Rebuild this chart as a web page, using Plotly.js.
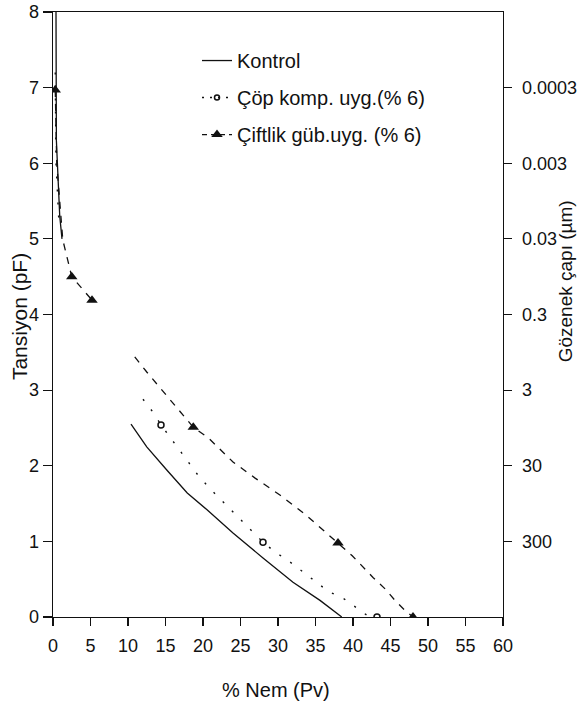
<!DOCTYPE html>
<html>
<head>
<meta charset="utf-8">
<script src="https://cdn.plot.ly/plotly-3.0.1.min.js"></script>
<style>html,body{margin:0;padding:0;background:#fff;}#chart{width:582px;height:707px;}</style>
</head>
<body>
<div id="chart"></div>
<script>
// Series names
const seriesNames = ['Kontrol', 'Çöp komp. uyg.(% 6)', 'Çiftlik güb.uyg. (% 6)'];
// Kontrol (solid line)
const kontrolX = [0.4, 0.45, 0.9, 1.2, null, 10.4, 12.5, 15.2, 17.9, 20.5, 24, 28, 32, 35.6, 38.5];
const kontrolY = [8.0, 6.3, 5.3, 5.0, null, 2.55, 2.25, 1.94, 1.64, 1.42, 1.11, 0.78, 0.46, 0.22, 0];
// Çöp komp. (dotted line + open circles)
const copLineX = [0.3, 0.4, 0.8, null, 12, 13.4, 14.4, 19.3, 20.9, 21.8, 22.7, 28, 29.6, 31.7, 36.7, 37.7, 38.8, 41.9, 43.2];
const copLineY = [7.2, 6.0, 5.2, null, 2.88, 2.7, 2.54, 1.88, 1.7, 1.61, 1.52, 0.99, 0.86, 0.72, 0.34, 0.29, 0.24, 0.02, 0];
const copMarkX = [14.4, 28, 43.2];
const copMarkY = [2.54, 0.99, 0];
// Çiftlik güb. (dashed line + triangles)
const ciftLineX = [0.3, 0.5, 1.3, 2.5, 5.2, null, 10.9, 12.5, 15.3, 18.7, 20.7, 24, 26.9, 30.3, 33.6, 35.2, 38, 39.9, 42.7, 44.3, 45.6, 46.9, 48];
const ciftLineY = [6.97, 6.0, 4.99, 4.5, 4.19, null, 3.44, 3.24, 2.91, 2.51, 2.37, 2.05, 1.84, 1.61, 1.36, 1.22, 0.98, 0.81, 0.52, 0.37, 0.22, 0.09, 0];
const ciftMarkX = [0.3, 2.5, 5.2, 18.7, 38, 48];
const ciftMarkY = [6.97, 4.5, 4.19, 2.51, 0.98, 0];
// Axis ticks
const xTicks = [0, 5, 10, 15, 20, 25, 30, 35, 40, 45, 50, 55, 60];
const yTicks = [0, 1, 2, 3, 4, 5, 6, 7, 8];
const poreTickVals = [1, 2, 3, 4, 5, 6, 7];
const poreTickText = ['300', '30', '3', '0.3', '0.03', '0.003', '0.0003'];

const FONT = 'Liberation Sans, Arial, Helvetica, sans-serif';
const INK = '#111';

const traces = [
  {x: kontrolX, y: kontrolY, mode: 'lines', name: seriesNames[0], legendgroup: 'a',
   line: {color: INK, width: 1.3}, connectgaps: false, showlegend: true},
  {x: copLineX, y: copLineY, mode: 'lines', name: seriesNames[1], legendgroup: 'b',
   line: {color: INK, width: 1.4, dash: '2px,11px'}, connectgaps: false, showlegend: false},
  {x: copMarkX, y: copMarkY, mode: 'markers', name: seriesNames[1], legendgroup: 'b', showlegend: false,
   marker: {symbol: 'circle-open', size: 6, color: INK, line: {width: 1.5, color: INK}}},
  {x: [null], y: [null], mode: 'lines+markers', name: seriesNames[1], legendgroup: 'b', showlegend: true,
   line: {color: INK, width: 1.4, dash: '2px,6px'},
   marker: {symbol: 'circle-open', size: 5, color: INK, line: {width: 1.5, color: INK}}},
  {x: ciftLineX, y: ciftLineY, mode: 'lines', name: seriesNames[2], legendgroup: 'c',
   line: {color: INK, width: 1.3, dash: '7px,7px'}, connectgaps: false, showlegend: false},
  {x: ciftMarkX, y: ciftMarkY, mode: 'markers', name: seriesNames[2], legendgroup: 'c', showlegend: false,
   marker: {symbol: 'triangle-up', size: 10, color: INK}},
  {x: [null], y: [null], mode: 'lines+markers', name: seriesNames[2], legendgroup: 'c', showlegend: true,
   line: {color: INK, width: 1.3, dash: '5px,4px'},
   marker: {symbol: 'triangle-up', size: 10, color: INK}},
  // invisible trace to activate right axis
  {x: [null], y: [null], yaxis: 'y2', mode: 'lines', showlegend: false, hoverinfo: 'skip'}
];

const layout = {
  width: 582, height: 707,
  margin: {l: 53, r: 79, t: 12, b: 90},
  paper_bgcolor: '#fff', plot_bgcolor: '#fff',
  font: {family: FONT, size: 18, color: INK},
  showlegend: true,
  legend: {x: 0.32, y: 0.952, xanchor: 'left', yanchor: 'top', bgcolor: 'rgba(0,0,0,0)',
           font: {family: FONT, size: 20, color: INK}, tracegroupgap: 8, itemwidth: 30,
           traceorder: 'grouped'},
  xaxis: {range: [0, 60], tickvals: xTicks, ticktext: xTicks.map(String),
          showgrid: false, zeroline: false, showline: true, linecolor: INK, linewidth: 1.3,
          mirror: true, ticks: 'outside', ticklen: 8, tickcolor: INK, tickwidth: 1.2,
          tickfont: {family: FONT, size: 18, color: INK}, ticklabelstandoff: 4},
  yaxis: {range: [0, 8], tickvals: yTicks, ticktext: yTicks.map(String),
          showgrid: false, zeroline: false, showline: true, linecolor: INK, linewidth: 1.3,
          ticks: 'outside', ticklen: 9, tickcolor: INK, tickwidth: 1.2,
          tickfont: {family: FONT, size: 18, color: INK}},
  yaxis2: {range: [0, 8], overlaying: 'y', side: 'right', tickvals: poreTickVals, ticktext: poreTickText,
           showgrid: false, zeroline: false, showline: true, linecolor: INK, linewidth: 1.3,
           ticks: 'outside', ticklen: 8, tickcolor: INK, tickwidth: 1.2,
           tickfont: {family: FONT, size: 18, color: INK}, ticklabelstandoff: 6},
  annotations: [
    {text: 'Tansiyon (pF)', xref: 'paper', yref: 'paper', x: -0.073, y: 0.496, xanchor: 'center', yanchor: 'middle',
     textangle: -90, showarrow: false, font: {family: FONT, size: 21, color: INK}},
    {text: 'Gözenek çapı (µm)', xref: 'paper', yref: 'paper', x: 1.138, y: 0.555, xanchor: 'center', yanchor: 'middle',
     textangle: -90, showarrow: false, font: {family: FONT, size: 19, color: INK}},
    {text: '% Nem (Pv)', xref: 'paper', yref: 'paper', x: 0.495, y: -0.12, xanchor: 'center', yanchor: 'middle',
     showarrow: false, font: {family: FONT, size: 20, color: INK}}
  ]
};

Plotly.newPlot('chart', traces, layout, {staticPlot: true, displayModeBar: false});
</script>
</body>
</html>
